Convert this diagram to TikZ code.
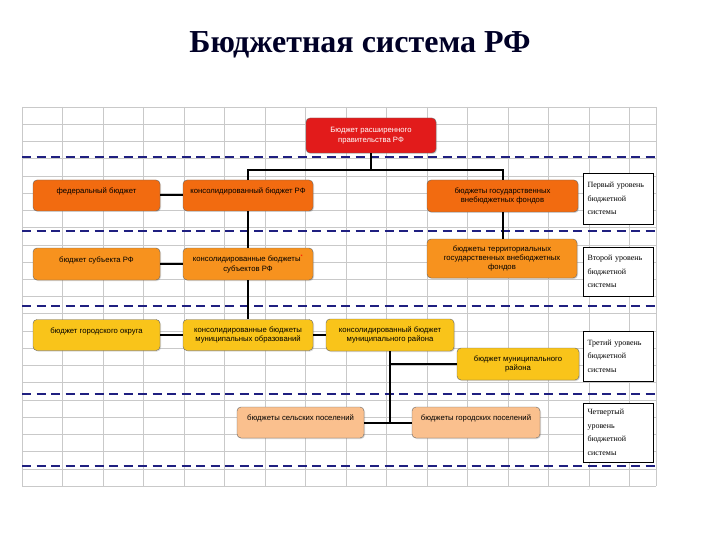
\documentclass[tikz,border=0pt]{standalone}
\usepackage{fontspec}
\setmainfont{Liberation Serif}
\setsansfont{Liberation Sans}
\usepackage{tikz}
\usetikzlibrary{positioning,shadows}
\definecolor{govred}{HTML}{E21B1B}
\definecolor{tierone}{HTML}{F26B10}
\definecolor{tiertwo}{HTML}{F7921E}
\definecolor{tierthree}{HTML}{F9C41A}
\definecolor{tierfour}{HTML}{FAC08E}
\definecolor{levelnavy}{HTML}{1F1F80}
\definecolor{sheetgrid}{HTML}{C9C9C9}

\begin{document}
\begin{tikzpicture}[x=1pt,y=-1pt,
  budget/.style={draw=black!60, rounded corners=4pt, align=center, inner sep=1.5pt,
    font=\sffamily\fontsize{7.7}{9.4}\selectfont,
    drop shadow={opacity=0.3, shadow xshift=1pt, shadow yshift=-1pt}},
  onerow/.style={text depth=9pt},
  levelbox/.style={draw=black, fill=white, thick, align=left, inner xsep=4pt,
    font=\fontsize{8}{13.5}\selectfont, text width=62pt},
  levelline/.style={levelnavy, line width=2.8pt, dash pattern=on 9pt off 5.5pt},
  link/.style={line width=2pt, black}]
  \useasboundingbox (0,0) rectangle (720,540);

  % Title
  \node[font=\bfseries\fontsize{32}{34}\selectfont, text=black!85!blue] (title) at (360,45) {Бюджетная система РФ};

  % Sheet grid
  \foreach \k in {0,...,15}
    \draw[sheetgrid, line width=0.6pt] (22+40.5*\k,107) -- (22+40.5*\k,486);
  \draw[sheetgrid, line width=0.6pt] (656,107) -- (656,486);
  \foreach \k in {0,...,22}
    \draw[sheetgrid, line width=0.6pt] (22,107+17.23*\k) -- (656,107+17.23*\k);

  % Level borders
  \foreach \y in {157,231,306,394,466}
    \draw[levelline] (22,\y) -- (656,\y);

  % Boxes
  \node[budget, fill=govred, text=white, minimum width=130pt, minimum height=35pt] (gov) at (371,135.5)
    {Бюджет расширенного\\правительства РФ};

  \node[budget, onerow, fill=tierone, minimum width=127pt, minimum height=31pt] (fedbud) at (96.5,195.5) {федеральный бюджет};
  \node[budget, onerow, fill=tierone, minimum width=130pt, minimum height=31pt] (consrf) at (248,195.5) {консолидированный бюджет РФ};
  \node[budget, fill=tierone, minimum width=151pt, minimum height=32pt] (funds) at (502.5,196)
    {бюджеты государственных\\внебюджетных фондов};

  \node[budget, onerow, fill=tiertwo, minimum width=127pt, minimum height=32pt] (subjbud) at (96.5,264) {бюджет субъекта РФ};
  \node[budget, fill=tiertwo, minimum width=130pt, minimum height=32pt] (conssubj) at (248,264)
    {консолидированные бюджеты\textsuperscript{\textcolor{red}{*}}\\субъектов РФ};
  \node[budget, fill=tiertwo, minimum width=150pt, minimum height=39pt] (terrfunds) at (502,258.5)
    {бюджеты территориальных\\государственных внебюджетных\\фондов};

  \node[budget, onerow, fill=tierthree, minimum width=127pt, minimum height=31pt] (citybud) at (96.5,335) {бюджет городского округа};
  \node[budget, fill=tierthree, minimum width=130pt, minimum height=31pt] (consmun) at (248,335)
    {консолидированные бюджеты\\муниципальных образований};
  \node[budget, fill=tierthree, minimum width=128pt, minimum height=32pt] (consdist) at (390,335)
    {консолидированный бюджет\\муниципального района};
  \node[budget, fill=tierthree, minimum width=122pt, minimum height=32pt] (distbud) at (518,364)
    {бюджет муниципального\\района};

  \node[budget, onerow, fill=tierfour, minimum width=127pt, minimum height=31pt] (villbud) at (300.5,422.5) {бюджеты сельских поселений};
  \node[budget, onerow, fill=tierfour, minimum width=128pt, minimum height=31pt] (townbud) at (476,422.5) {бюджеты городских поселений};

  % Level captions
  \node[levelbox, minimum height=51pt] (lvlone) at (618.5,198.5) {Первый уровень\\бюджетной\\системы};
  \node[levelbox, minimum height=49pt] (lvltwo) at (618.5,271.5) {Второй уровень\\бюджетной\\системы};
  \node[levelbox, minimum height=50pt] (lvlthree) at (618.5,356) {Третий уровень\\бюджетной\\системы};
  \node[levelbox, minimum height=59pt] (lvlfour) at (618.5,432.5) {Четвертый\\уровень\\бюджетной\\системы};

  % Connectors
  \coordinate (govbus) at (371,170);
  \coordinate (distsplit) at (390,422.5);
  \draw[link] (gov.south) -- (govbus);
  \draw[link] (consrf.north) |- (govbus) -| (funds.north);
  \draw[link] (fedbud.east) -- (consrf.west);
  \draw[link] (funds.south) -- (funds.south |- terrfunds.north);
  \draw[link] (consrf.south) -- (conssubj.north);
  \draw[link] (subjbud.east) -- (conssubj.west);
  \draw[link] (conssubj.south) -- (consmun.north);
  \draw[link] (citybud.east) -- (consmun.west);
  \draw[link] (consmun.east) -- (consdist.west);
  \draw[link] (consdist.south) -- (distsplit);
  \draw[link] (consdist.south |- distbud.west) -- (distbud.west);
  \draw[link] (villbud.east) -- (townbud.west);
\end{tikzpicture}
\end{document}
